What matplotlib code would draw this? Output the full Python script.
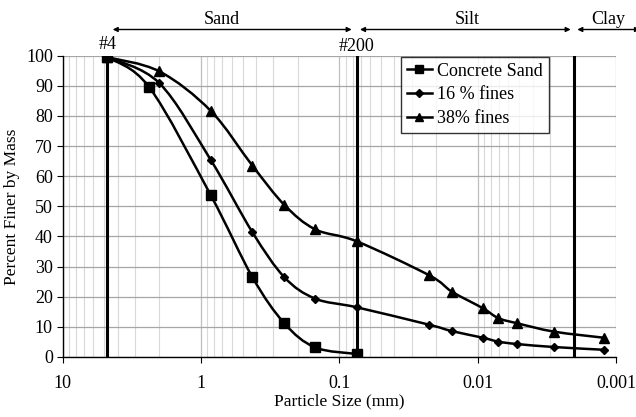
import numpy as np
import matplotlib
matplotlib.use("Agg")
import matplotlib.pyplot as plt
from matplotlib.path import Path
from matplotlib.patches import PathPatch
from matplotlib.lines import Line2D

plt.rcParams['font.family'] = ['Liberation Serif', 'DejaVu Serif']
plt.rcParams['font.size'] = 13

# sieve sizes (mm)
sand_size = [4.75, 2.36, 0.85, 0.425, 0.25, 0.15, 0.075]
fines_size = [4.75, 2.0, 0.85, 0.425, 0.25, 0.15, 0.075,
              0.0224, 0.0154, 0.0092, 0.0071, 0.0052, 0.0028, 0.00123]

concrete_sand = [99.5, 89.5, 53.7, 26.5, 11.2, 3.2, 1.0]
fines_16 = [99.5, 90.9, 65.4, 41.4, 26.5, 19.4, 16.5,
            10.7, 8.6, 6.4, 5.1, 4.3, 3.3, 2.4]
fines_38 = [99.5, 94.8, 81.7, 63.5, 50.5, 42.4, 38.4,
            27.1, 21.7, 16.2, 12.9, 11.2, 8.4, 6.4]

labels = ['Concrete Sand', '16 % fines', '38% fines']
markers = ['s', 'D', '^']
msizes = [6.5, 4.5, 7]

limits = [4.75, 0.075, 0.002]   # #4, #200, clay boundary
x_ticks = [10, 1, 0.1, 0.01, 0.001]
x_ticklabels = ['10', '1', '0.1', '0.01', '0.001']


def smooth_path(xs, ys):
    # Catmull-Rom style bezier through the points, in log-x space
    lx = np.log10(xs)
    ys = np.asarray(ys, float)
    pts = np.column_stack([lx, ys])
    ext = np.vstack([pts[0], pts, pts[-1]])
    verts = [pts[0]]
    codes = [Path.MOVETO]
    for i in range(len(pts) - 1):
        p0, p1, p2, p3 = ext[i], ext[i + 1], ext[i + 2], ext[i + 3]
        c1 = p1 + (p2 - p0) / 6.0
        c2 = p2 - (p3 - p1) / 6.0
        verts += [c1, c2, p2]
        codes += [Path.CURVE4] * 3
    verts = np.array(verts)
    verts[:, 0] = 10 ** verts[:, 0]
    return Path(verts, codes)


fig = plt.figure(figsize=(6.36, 4.17), dpi=100)
ax = fig.add_axes([0.0984, 0.1439, 0.8704, 0.7225])
ax.set_xscale('log')
ax.set_xlim(10, 0.001)
ax.set_ylim(0, 100)

ax.grid(True, which='major', axis='y', color='#a6a6a6', lw=0.9)
ax.grid(True, which='major', axis='x', color='#bfbfbf', lw=0.9)
ax.grid(True, which='minor', axis='x', color='#d9d9d9', lw=0.8)
ax.set_axisbelow(True)

for v in limits:
    ax.plot([v, v], [0, 100], color='black', lw=2.2, zorder=2)

handles = []
for xs, ys, lab, m, ms in zip([sand_size, fines_size, fines_size],
                              [concrete_sand, fines_16, fines_38],
                              labels, markers, msizes):
    ax.add_patch(PathPatch(smooth_path(xs, ys), facecolor='none',
                           edgecolor='black', lw=1.8, zorder=3))
    ax.plot(xs, ys, linestyle='none', marker=m, markersize=ms,
            color='black', zorder=4)
    handles.append(Line2D([], [], color='black', lw=1.8, marker=m,
                          markersize=ms * 0.85))

ax.set_xticks(x_ticks)
ax.set_xticklabels(x_ticklabels)
ax.xaxis.set_minor_formatter(plt.NullFormatter())
ax.tick_params(axis='x', which='minor', length=0)
ax.tick_params(axis='x', which='major', direction='out', length=4, pad=9)
ax.set_yticks(range(0, 101, 10))
ax.tick_params(axis='y', direction='out', length=4, pad=3)

for s in ['top', 'right']:
    ax.spines[s].set_visible(False)
ax.spines['left'].set_linewidth(1.0)
ax.spines['bottom'].set_linewidth(1.0)

ax.set_xlabel('Particle Size (mm)', labelpad=1, fontsize=12.5)
ax.set_ylabel('Percent Finer by Mass', labelpad=4, fontsize=12.5)

leg = ax.legend(handles, labels, loc='upper left',
                bbox_to_anchor=(0.612, 0.995), frameon=True, fancybox=False,
                handlelength=1.4, handletextpad=0.3, borderpad=0.3,
                labelspacing=0.38, borderaxespad=0)
leg.get_frame().set_edgecolor('black')
leg.get_frame().set_linewidth(1.0)

# sieve labels
ax.text(limits[0], 100.8, '#4', ha='center', va='bottom')
ax.text(limits[1], 100.3, '#200', ha='center', va='bottom')

# soil class arrows in figure pixels
H = 417.0
ay = 1 - 29.5 / H
arrows = [(112.7, 351.7, 'Sand', 222), (360, 570.7, 'Silt', 467),
          (577.3, 640, 'Clay', 608)]
for x0, x1, name, xt in arrows:
    ax.annotate('', xy=(x0 / 636, ay), xytext=(x1 / 636, ay),
                xycoords='figure fraction', textcoords='figure fraction',
                arrowprops=dict(arrowstyle='<|-|>', lw=1.0, color='black',
                                mutation_scale=7, shrinkA=0, shrinkB=0))
    fig.text(xt / 636, 1 - 19 / H, name, ha='center', va='center')

fig.savefig('out.png', dpi=100)
